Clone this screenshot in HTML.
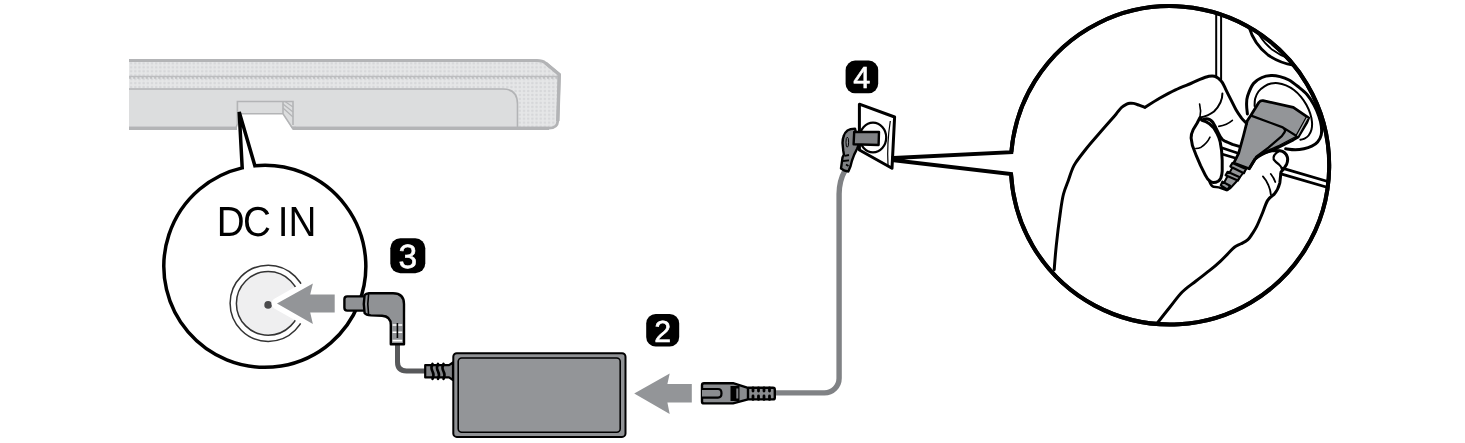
<!DOCTYPE html>
<html lang="en">
<head>
<meta charset="utf-8">
<title>DC IN connection</title>
<style>
html,body{margin:0;padding:0;background:#fff;}
body{width:1465px;height:443px;overflow:hidden;font-family:"Liberation Sans",sans-serif;}
svg{display:block;will-change:transform;}
text{text-rendering:geometricPrecision;}
</style>
</head>
<body>
<svg width="1465" height="443" viewBox="0 0 1465 443">
<defs>
<pattern id="dots" x="129" y="61.4" width="4.18" height="3.95" patternUnits="userSpaceOnUse">
<rect width="4.18" height="3.95" fill="#e5e6e7"/>
<circle cx="2.1" cy="2" r="1.2" fill="#d6d7d9"/>
</pattern>
<clipPath id="bigclip"><circle cx="1170" cy="165.3" r="159.2"/></clipPath>

</defs>
<rect width="1465" height="443" fill="#fff"/>

<!-- SOUNDBAR -->
<g id="soundbar">
<path d="M129 60.5 H537 Q542.5 60.5 545.5 63 L559.3 74.5 L557.8 121 Q557.3 128.2 549 128.2 H129 Z" fill="url(#dots)"/>
<path d="M129 89 H503 Q517.5 89 517.5 104 V128.5 H129 Z" fill="#dcddde"/>
<path d="M129 76.4 H559" stroke="#bcbdbf" stroke-width="1.5" fill="none"/>
<path d="M129 77.9 H559" stroke="#bfc0c2" stroke-width="1.8" stroke-dasharray="2.1 2.08" fill="none"/>
<path d="M129 89 H503 Q517.5 89 517.5 104 V128.5" fill="none" stroke="#b3b4b6" stroke-width="1.6"/>
<path d="M129 60.5 H537 Q542.5 60.5 545.5 63 L559.3 74.5 L557.8 121 Q557.3 128.2 549 128.2 H129" fill="none" stroke="#b3b4b6" stroke-width="2.8" stroke-linejoin="round"/>
<path d="M545.5 63 L559.3 74.5 L557.8 121" fill="none" stroke="#b3b4b6" stroke-width="3.4" stroke-linejoin="round"/>
<path d="M129 128.4 H549" stroke="#b3b4b6" stroke-width="3.4" fill="none"/>
<!-- notch -->
<path d="M237 113.7 H283 L293 130.5 H237 Z" fill="#fff"/>
<path d="M234 128 H236 L237.4 124 V101.5 H293 V125 M283 101.5 V113.7 M237.4 113.7 H283 L292 127.5 H296" fill="none" stroke="#b3b4b6" stroke-width="1.6"/>
<path d="M283 104 L293 112 M283 108 L293 117 M285 101.5 L293 107" fill="none" stroke="#b3b4b6" stroke-width="1.2"/>
</g>

<!-- SMALL CALLOUT -->
<g id="callout1">
<path d="M239.2 112 L242.20 167.88 A101 101 0 1 0 254.90 165.80 Z" fill="#fff" stroke="#000" stroke-width="3.5" stroke-linejoin="miter"/>
<text transform="scale(0.92,1)" x="235.7 264.2 290 301.9 313.6" y="236" font-family="'Liberation Sans',sans-serif" font-size="42" fill="#000">DC IN</text>
<circle cx="268.2" cy="303.3" r="38.1" fill="#fff" stroke="#333" stroke-width="1.5"/>
<circle cx="268.2" cy="303.4" r="31.8" fill="#efeff0" stroke="#333" stroke-width="1.5"/>
<circle cx="268.1" cy="304.9" r="3.8" fill="#4a4a4c"/>
<path d="M277 303.6 L312.9 283.4 L310.2 294.5 H334.7 V312.6 H310.2 L312.9 324 Z" fill="#939598" stroke="#fff" stroke-width="11" stroke-linejoin="round" paint-order="stroke"/>
</g>

<!-- DC PLUG -->
<g id="dcplug">
<path d="M397.5 343 V362 Q397.5 370.9 406.5 370.9 H426" fill="none" stroke="#58595b" stroke-width="5"/>
<rect x="344.4" y="296.4" width="24" height="14.2" rx="2.8" fill="#909295" stroke="#000" stroke-width="2.4"/>
<path d="M369 293.2 H393 Q404 293.2 404 304 V344.2 H390.8 V325 Q390.8 316.2 382 315.8 L371 315.4 Q366 315 364.6 313 Q363 303.8 364.6 295 Q366 293.4 369 293.2 Z" fill="#909295" stroke="#000" stroke-width="2.4" stroke-linejoin="round"/>
<path d="M368.6 294 Q367 304 368.6 314.6" fill="none" stroke="#000" stroke-width="1.6"/>
<path d="M392.6 325 H402.2 M392.6 332.3 H402.2 M392.6 340.6 H402.2" stroke="#fff" stroke-width="1.6" fill="none"/>
<path d="M397.4 323 V338" stroke="#000" stroke-width="1.6"/>
</g>

<!-- ADAPTER -->
<g id="adapter">
<path d="M425.2 365.2 H449 L453 362.5 V380 L449 377.4 H425.2 Z" fill="#808285" stroke="#000" stroke-width="2.2" stroke-linejoin="round"/>
<path d="M432.5 363.8 q-2 4 0 7.5 q2 3.5 0 7.5 M438 363.8 q-2 4 0 7.5 q2 3.5 0 7.5 M443.5 363.8 q-2 4 0 7.5 q2 3.5 0 7.5" stroke="#000" stroke-width="2.6" fill="none" stroke-linecap="round"/>
<rect x="453.3" y="353.3" width="172.2" height="83.6" rx="3.5" fill="#909295" stroke="#000" stroke-width="2"/>
<rect x="458.2" y="358" width="162" height="74.2" rx="3.5" fill="#939598" stroke="#000" stroke-width="1.6"/>
</g>

<!-- ARROW 2 -->
<path d="M634.2 393.6 L669.7 373.4 L667.4 384 H691.8 V402.6 H667.4 L669.7 414 Z" fill="#939598"/>

<!-- AC PLUG (IEC) -->
<g id="iec">
<path d="M775 392.9 H824.5 A14.6 14.6 0 0 0 839.1 378.3 V194 Q839.1 181 845 170.5" fill="none" stroke="#808285" stroke-width="5.4"/>
<path d="M704 383.2 H733 L748 387.8 H773 Q774.8 387.8 774.8 389.8 V397.4 Q774.8 399.4 773 399.4 H748 L733 403.4 H704 Q702 403.4 702 401.4 V385.2 Q702 383.2 704 383.2 Z" fill="#8a8c8f" stroke="#000" stroke-width="2.4" stroke-linejoin="round"/>
<path d="M702 389 H718 Q721.5 389 721.5 393.3 Q721.5 397.6 718 397.6 H702" fill="#8a8c8f" stroke="#000" stroke-width="2.2"/>
<rect x="730.5" y="386" width="9" height="15" fill="#000"/>
<rect x="736.3" y="388.5" width="2" height="10" fill="#808285"/>
<path d="M748 387.8 V399.4" stroke="#000" stroke-width="2.4"/>
<path d="M753 388 v3 m0 5 v3.4 M758.5 388 v3 m0 5 v3.4 M764 388 v3 m0 5 v3.4 M769.5 388 v3 m0 5 v3.4" stroke="#000" stroke-width="2.8" fill="none" stroke-linecap="round"/>
</g>

<!-- BADGES -->
<g font-family="'Liberation Sans',sans-serif" fill="#fff" text-anchor="middle" stroke="#fff" stroke-width="0.6">
<rect x="390.3" y="238.3" width="35" height="35" rx="10" fill="#000" stroke="none"/>
<text x="407.9" y="268.4" font-size="33.5">3</text>
<rect x="646.2" y="314" width="33" height="32.6" rx="9.5" fill="#000" stroke="none"/>
<text x="662.7" y="341.7" font-size="30.3">2</text>
<rect x="845.6" y="60.6" width="32.6" height="32.7" rx="9.5" fill="#000" stroke="none"/>
<text x="861.7" y="88.3" font-size="30.6">4</text>
</g>

<!-- WALL OUTLET -->
<g id="outlet">
<path d="M859.4 104.2 L894.6 117 L892 168.3 L859.4 150 Z" fill="#fff" stroke="#000" stroke-width="3" stroke-linejoin="round"/>
<path d="M890.3 121 Q886.8 143 888 165" fill="none" stroke="#000" stroke-width="1.2"/>
<ellipse cx="873" cy="137.5" rx="13.2" ry="14.8" fill="#fff" stroke="#000" stroke-width="2.2"/>
<path d="M855 128.6 Q850 128.6 847.6 130.4 Q844.5 133 843.9 135.5 Q842.5 139 842.5 142.9 L843.2 150.2 L843.9 154.6 L842.5 157.5 L841.7 163.4 L841 168.5 L844.7 170.7 L848.3 171.5 L850.5 166.3 L852 160.5 L854.2 154.6 L857.1 148.7 L858.6 145 Z" fill="#808285" stroke="#000" stroke-width="2.4" stroke-linejoin="round"/>
<path d="M844.5 155.8 L849 155 M843 161 L849 160.3 M846 164.5 L848.5 166" stroke="#000" stroke-width="1.8" fill="none"/>
<ellipse cx="847.3" cy="142.2" rx="1.3" ry="5" fill="#8e9093" stroke="#000" stroke-width="1"/>
<path d="M854.2 131.9 L879 132 L878.6 145 L853.6 144.3 Z" fill="#808285" stroke="#000" stroke-width="2.4" stroke-linejoin="round"/>
</g>

<!-- BIG CALLOUT -->
<g id="callout2">
<path d="M893.5 157.9 L1011.34 152.20 A159.2 159.2 0 1 1 1011.04 174.00 L893.5 160.2 Z" fill="#fff" stroke="#000" stroke-width="4" stroke-linejoin="miter"/>
<g clip-path="url(#bigclip)" fill="none" stroke="#000" stroke-width="3" stroke-linecap="round" stroke-linejoin="round">
<!-- tile lines -->
<path d="M1216.2 0 V77 M1221.1 0 V80" stroke-width="2"/>
<path d="M1283 168.3 L1335 183.6 M1281 173.8 L1335 189.6" stroke-width="2.8"/>
<!-- upper socket -->
<path d="M1249 27 Q1254 44 1268 55 Q1280 63 1293 65" stroke-width="2.8"/>
<path d="M1259.5 35.5 Q1265 44 1272 49.5 Q1280 55.5 1290 59" stroke-width="1.8"/>
<!-- socket -->
<path d="M1247.4 114.0 C1247.3 112.5 1246.6 108.0 1246.6 105.0 C1246.6 102.0 1246.4 99.6 1247.6 96.0 C1248.8 92.4 1251.1 86.6 1253.5 83.5 C1255.9 80.4 1259.1 78.8 1262.0 77.5 C1264.9 76.2 1268.0 75.8 1271.0 75.6 C1274.0 75.4 1277.0 75.9 1280.0 76.6 C1283.0 77.3 1286.0 78.3 1289.0 80.0 C1292.0 81.7 1295.0 84.1 1298.0 86.5 C1301.0 88.9 1304.3 91.4 1307.0 94.5 C1309.7 97.6 1312.0 101.4 1314.0 105.0 C1316.0 108.6 1317.6 112.5 1318.8 116.0 C1320.0 119.5 1320.9 122.8 1321.3 126.0 C1321.7 129.2 1321.8 132.3 1321.2 135.0 C1320.6 137.7 1319.2 140.1 1317.6 142.0 C1316.0 143.9 1314.1 145.1 1311.8 146.2 C1309.5 147.3 1306.8 148.2 1304.0 148.8 C1301.2 149.4 1298.3 149.8 1295.3 149.8 C1292.2 149.8 1287.3 149.0 1285.7 148.8" fill="#fff" stroke-width="3"/>
<path d="M1254.6 106.0 C1254.7 104.8 1254.5 100.9 1255.2 98.5 C1255.9 96.1 1257.0 93.5 1258.5 91.5 C1260.0 89.5 1262.4 87.6 1264.5 86.3 C1266.6 85.0 1268.8 84.1 1271.0 83.6 C1273.2 83.1 1275.5 82.9 1278.0 83.2 C1280.5 83.5 1283.3 84.3 1286.0 85.4 C1288.7 86.5 1291.5 88.1 1294.0 90.0 C1296.5 91.9 1298.9 94.3 1301.0 96.8 C1303.1 99.3 1305.0 102.2 1306.5 105.0 C1308.0 107.8 1309.3 110.7 1310.2 113.5 C1311.1 116.3 1311.8 119.3 1312.0 122.0 C1312.2 124.7 1312.1 127.2 1311.5 129.5 C1310.9 131.8 1309.8 134.0 1308.6 135.5 C1307.4 137.0 1305.9 137.9 1304.5 138.6 C1303.1 139.3 1301.1 139.6 1300.4 139.8" stroke-width="2"/>
<!-- plug -->
<path d="M1251.1 115 L1258.8 102.5 Q1260.5 100.3 1263 100.6 L1293.3 107.3 L1308.7 117.8 L1306.8 122.6 L1298.1 137 L1293.3 139.9 L1272.2 150.5 Q1262 153.5 1255 159.1 L1249.2 168.7 L1233.8 163 L1238.6 153.3 L1243.4 136 L1247.3 120.7 Z" fill="#939598" stroke-width="2.8"/>
<path d="M1251.1 115.6 L1282.8 127.4 L1298.1 137 M1282.8 127.4 Q1286 130 1284.7 132 L1281.8 136.1 L1268.4 147.6 L1256 157" stroke-width="2.2"/>
<path d="M1296 136.5 L1278 146 L1262 153" stroke-width="1.4"/>
<path d="M1308.7 117.8 L1298.1 137 L1296 135.6 L1306.3 117 Z" fill="#b5b7b9" stroke-width="1.2"/>
<!-- strain relief -->
<path d="M1234.5 164 L1246 169 L1240.5 176.5 L1236.5 181.5 L1230 188.5 L1227 190.3 L1222 186.5 L1225.5 180 L1229 173.5 Z" fill="#939598" stroke-width="2"/>
<path d="M1232.4 163 L1245.9 169.1 L1243.9 173.2 L1230.4 166.4 Z" fill="#939598" stroke-width="2.2"/>
<path d="M1227.6 171.8 L1239.8 177.2 L1237.8 180.6 L1225.6 175.2 Z" fill="#939598" stroke-width="2.2"/>
<path d="M1222.4 181.6 L1230 185.8 L1227.6 189.6 L1220.8 185.4 Z" fill="#939598" stroke-width="2.2"/>
<!-- hand -->
<path d="M1054.2 269.7 C1054.5 265.6 1055.3 254.8 1056.3 245.3 C1057.3 235.8 1059.1 221.4 1060.3 212.8 C1061.5 204.2 1062.1 199.5 1063.5 194.0 C1064.9 188.5 1067.1 184.0 1068.5 180.0 C1069.9 176.0 1070.8 172.8 1072.0 170.0 C1073.2 167.2 1073.2 166.5 1075.5 163.0 C1077.8 159.5 1082.2 153.8 1086.0 149.0 C1089.8 144.2 1094.8 138.6 1098.3 134.5 C1101.8 130.4 1104.0 127.9 1107.0 124.5 C1110.0 121.1 1113.6 117.0 1116.0 114.2 C1118.4 111.4 1119.7 109.2 1121.5 107.5 C1123.3 105.8 1125.3 104.9 1126.7 104.2 C1128.1 103.5 1128.9 103.3 1130.0 103.2 C1131.1 103.1 1132.0 103.1 1133.5 103.4 C1135.0 103.7 1137.1 104.5 1139.0 105.2 C1140.9 105.9 1143.9 107.0 1144.9 107.4 M1144.9 107.4 C1147.4 105.8 1154.9 100.9 1160.0 98.0 C1165.1 95.1 1170.4 92.2 1175.5 89.8 C1180.6 87.4 1186.7 85.2 1190.8 83.5 C1194.9 81.8 1196.9 80.6 1199.9 79.4 C1202.9 78.2 1206.5 76.8 1208.9 76.3 C1211.3 75.8 1212.8 75.8 1214.5 76.2 C1216.2 76.6 1217.5 77.6 1218.8 78.7 C1220.1 79.8 1221.2 80.7 1222.4 82.6 C1223.6 84.5 1224.7 87.2 1226.0 89.9 C1227.3 92.6 1228.8 95.6 1230.5 98.9 C1232.2 102.2 1234.2 106.6 1236.0 109.7 C1237.8 112.8 1239.7 115.5 1241.4 117.8 C1243.2 120.1 1245.7 122.5 1246.5 123.5"/>
<path d="M1222.4 93.5 Q1222.5 103 1214 111.5 Q1208 116 1200 117.6" stroke-width="2"/>
<path d="M1199.6 104 Q1201.4 110.8 1199.9 117.6" stroke-width="1.6"/>
<path d="M1199.9 117.6 L1197.2 123 L1193.1 129.8 Q1191 134 1191.1 138 L1192.4 145.5 L1196.5 156.2 L1200.6 165.7 L1205.3 175.2 Q1207.5 179.5 1209.4 180.6 Q1211.5 182.4 1213.4 182.6 Q1216 182.6 1218.2 181.3 Q1220 180 1220.9 177.9 Q1222 175 1222.2 171.1 L1222.2 160.3 L1221.6 150.8 L1220.2 142 Q1219 137 1216.8 133 Q1214 127 1209.4 123.7 Q1206 121.5 1201.9 120.3 Z" fill="#fff"/>
<path d="M1203.5 119.2 Q1209 117.5 1212.8 122.3 L1215.5 127.1 L1218.8 133.8 Q1220.5 137.5 1222.2 139.3 Q1224.5 141.3 1227 142 L1232.4 144.4 L1239.2 146.4" stroke-width="3"/>
<path d="M1221.6 147.8 L1237.4 153 M1222.6 154.2 L1236 158.2" stroke-width="2.6"/>
<path d="M1232.4 120.3 Q1227 124.8 1218.8 126.4" stroke-width="1.6"/>
<path d="M1210 137.2 Q1207 143.5 1201.2 147.2 Q1198.5 148.5 1195.8 148.5" stroke-width="1.6"/>
<path d="M1209.4 181.5 Q1211 186 1213.5 186.8 L1218.8 187.4 L1226.5 190" stroke-width="2.4"/>
<!-- thumb and arm -->
<path d="M1249.3 168.5 L1255 159.1 Q1259 155.5 1262.6 153.3 L1272.2 150.5 L1280 150.8 Q1285.5 151.5 1287.4 157.2 Q1288.2 161 1286.5 164.5 Q1284 169 1281 172 L1279.8 183 Q1278 190 1274 194.4 C1272.9 195.4 1269.4 197.5 1267.5 200.6 C1265.6 203.7 1264.3 208.7 1262.5 213.0 C1260.7 217.3 1258.4 223.0 1256.7 226.4 C1255.0 229.8 1253.8 231.5 1252.3 233.7 C1250.8 235.9 1249.8 237.9 1247.9 239.6 C1246.0 241.3 1243.2 242.6 1241.0 243.8 C1238.8 245.0 1236.7 245.5 1234.7 247.0 C1232.7 248.5 1231.2 250.4 1228.8 252.8 C1226.3 255.2 1223.0 258.8 1220.0 261.6 C1217.0 264.4 1214.6 266.5 1210.6 269.7 C1206.6 272.9 1200.7 277.3 1196.0 281.0 C1191.3 284.7 1186.5 287.7 1182.2 292.0 C1177.9 296.3 1174.1 301.9 1170.0 307.0 C1165.9 312.1 1159.8 319.9 1157.8 322.5" />
<path d="M1279 151 Q1272.5 155 1273.7 159.5 Q1276 162.5 1279 164.5 Q1281.5 166.5 1282 169.5" stroke-width="2.2"/>
<path d="M1262.9 176.4 Q1267 181 1268.5 185.4 Q1270.5 190 1270.8 194.4" stroke-width="1.8"/>
<path d="M1270.8 174 Q1274 178 1275.3 182" stroke-width="1.8"/>
</g>
<path d="M1011.34 152.20 A159.2 159.2 0 1 1 1011.04 174.00" fill="none" stroke="#000" stroke-width="4"/>
</g>
</svg>
</body>
</html>
